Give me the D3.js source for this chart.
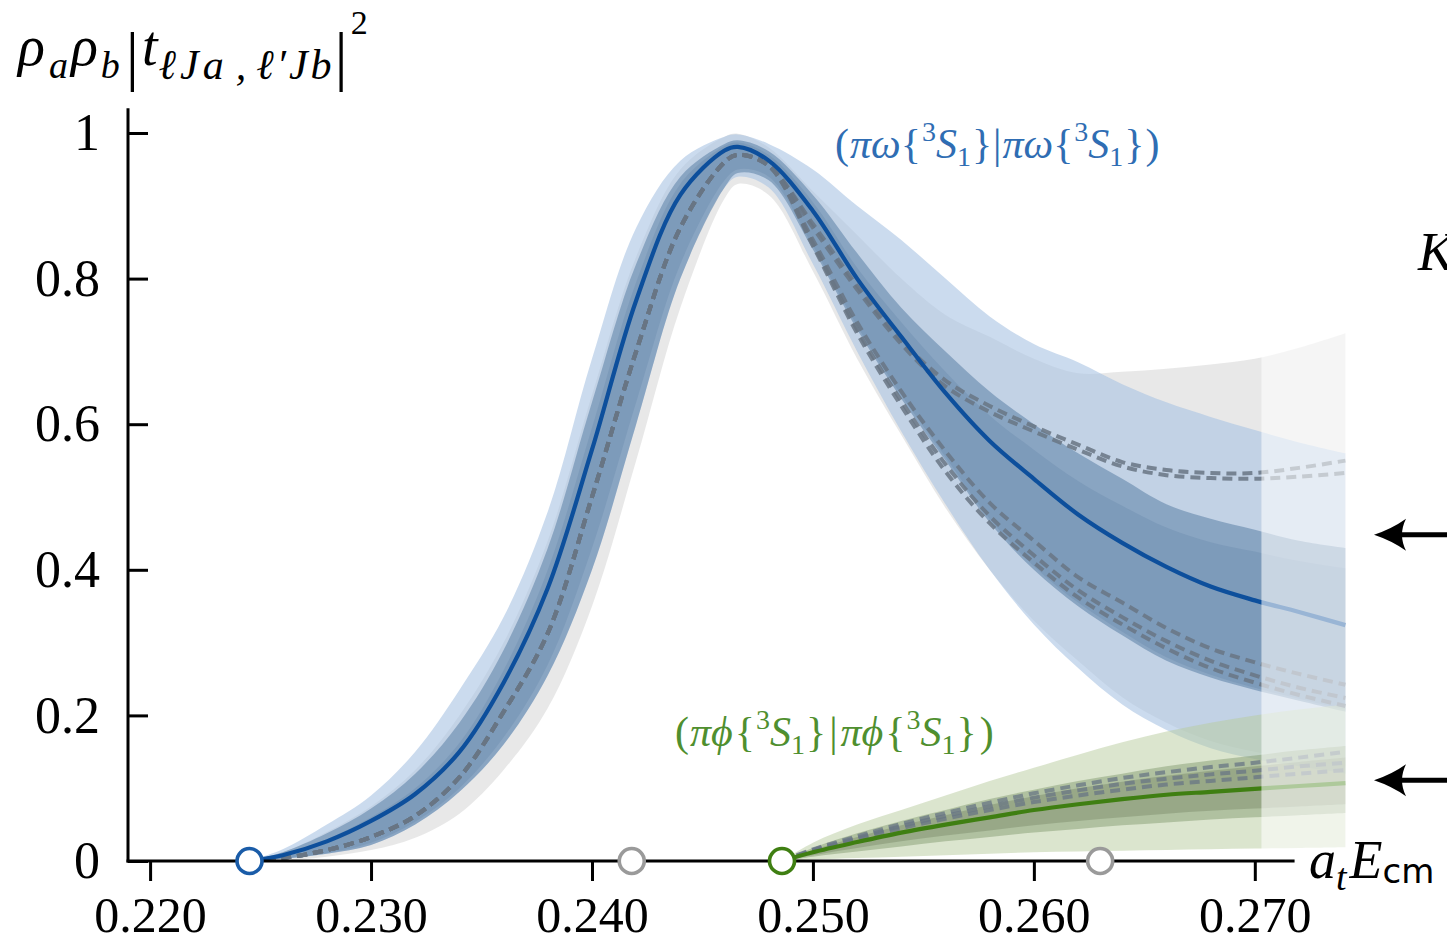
<!DOCTYPE html>
<html>
<head>
<meta charset="utf-8">
<script src="https://cdn.jsdelivr.net/npm/d3@7"></script>
<style>
  html, body { margin: 0; padding: 0; background: #ffffff; }
  svg { display: block; }
</style>
</head>
<body>
<svg id="chart" width="1447" height="945"></svg>
<script>
// ---------------- DATA ----------------
const xTicks = [0.220, 0.230, 0.240, 0.250, 0.260, 0.270];
const yTicks = [0, 0.2, 0.4, 0.6, 0.8, 1];
const yTickLabels = ["0", "0.2", "0.4", "0.6", "0.8", "1"];

// thresholds (open circles on the axis)
const thresholdX = [0.2245, 0.2418, 0.2486, 0.2630];
const thresholdKind = ["blue", "gray", "green", "gray"];

// region beyond which the curves are drawn faded
const fadeStart = 0.2703;
const fadeEnd = 0.2741;

// pi-omega channel
const xsBlue = [0.2245, 0.226, 0.228, 0.230, 0.232, 0.234, 0.236, 0.238, 0.240, 0.242, 0.244, 0.246, 0.2466, 0.248, 0.250, 0.252, 0.254, 0.256, 0.258, 0.260, 0.262, 0.264, 0.266, 0.268, 0.270, 0.272, 0.2741];
const blueCentral = [0, 0.008, 0.027, 0.055, 0.092, 0.15, 0.245, 0.375, 0.565, 0.77, 0.915, 0.976, 0.981, 0.962, 0.893, 0.80, 0.72, 0.643, 0.577, 0.525, 0.476, 0.437, 0.404, 0.377, 0.358, 0.342, 0.324];
const blueOuterHi = [0, 0.016, 0.05, 0.09, 0.15, 0.235, 0.335, 0.48, 0.69, 0.87, 0.962, 0.995, 0.998, 0.985, 0.95, 0.90, 0.853, 0.80, 0.748, 0.71, 0.685, 0.655, 0.63, 0.61, 0.592, 0.575, 0.56];
const blueOuterLo = [0, 0.003, 0.01, 0.022, 0.05, 0.095, 0.16, 0.255, 0.40, 0.6, 0.8, 0.925, 0.94, 0.925, 0.82, 0.70, 0.59, 0.49, 0.40, 0.325, 0.265, 0.215, 0.18, 0.155, 0.14, 0.13, 0.12];
const blueMidHi = [0, 0.012, 0.038, 0.072, 0.12, 0.19, 0.29, 0.43, 0.63, 0.82, 0.94, 0.985, 0.99, 0.975, 0.915, 0.835, 0.76, 0.70, 0.645, 0.60, 0.56, 0.525, 0.49, 0.47, 0.455, 0.44, 0.43];
const blueMidLo = [0, 0.003, 0.01, 0.022, 0.05, 0.095, 0.16, 0.255, 0.40, 0.6, 0.8, 0.925, 0.945, 0.935, 0.84, 0.73, 0.635, 0.55, 0.465, 0.40, 0.35, 0.31, 0.275, 0.252, 0.235, 0.22, 0.205];
const blueInnerHi = [0, 0.009, 0.03, 0.06, 0.1, 0.162, 0.262, 0.4, 0.595, 0.795, 0.93, 0.982, 0.987, 0.97, 0.905, 0.815, 0.74, 0.672, 0.612, 0.565, 0.522, 0.488, 0.458, 0.438, 0.425, 0.412, 0.402];
const blueInnerLo = [0, 0.003, 0.011, 0.025, 0.054, 0.1, 0.17, 0.27, 0.43, 0.63, 0.82, 0.935, 0.95, 0.94, 0.845, 0.735, 0.64, 0.555, 0.47, 0.405, 0.355, 0.315, 0.28, 0.256, 0.238, 0.223, 0.208];
const grayHi = [0, 0.012, 0.04, 0.075, 0.125, 0.2, 0.3, 0.44, 0.64, 0.83, 0.95, 0.995, 0.999, 0.98, 0.92, 0.86, 0.80, 0.75, 0.72, 0.69, 0.67, 0.672, 0.676, 0.682, 0.69, 0.705, 0.725];
const grayLo = [0, 0.001, 0.006, 0.015, 0.032, 0.065, 0.125, 0.21, 0.35, 0.55, 0.76, 0.91, 0.93, 0.915, 0.81, 0.69, 0.585, 0.485, 0.40, 0.33, 0.275, 0.225, 0.19, 0.165, 0.15, 0.14, 0.13];
const blueDash1 = [0, 0.004, 0.015, 0.033, 0.062, 0.115, 0.205, 0.313, 0.50, 0.70, 0.87, 0.96, 0.97, 0.955, 0.875, 0.79, 0.715, 0.66, 0.625, 0.597, 0.572, 0.548, 0.537, 0.533, 0.533, 0.54, 0.55];
const blueDash2 = [0, 0.004, 0.015, 0.033, 0.062, 0.115, 0.205, 0.313, 0.50, 0.70, 0.87, 0.96, 0.97, 0.955, 0.87, 0.785, 0.71, 0.652, 0.617, 0.59, 0.565, 0.542, 0.53, 0.526, 0.525, 0.528, 0.533];
const blueDash3 = [0, 0.004, 0.015, 0.033, 0.062, 0.115, 0.205, 0.313, 0.50, 0.70, 0.87, 0.96, 0.97, 0.955, 0.853, 0.74, 0.645, 0.563, 0.492, 0.44, 0.39, 0.355, 0.32, 0.292, 0.273, 0.257, 0.242];
const blueDash4 = [0, 0.004, 0.015, 0.033, 0.062, 0.115, 0.205, 0.313, 0.50, 0.70, 0.87, 0.96, 0.97, 0.955, 0.848, 0.73, 0.632, 0.545, 0.474, 0.42, 0.372, 0.335, 0.302, 0.275, 0.255, 0.238, 0.224];
const blueDash5 = [0, 0.004, 0.015, 0.033, 0.062, 0.115, 0.205, 0.313, 0.50, 0.70, 0.87, 0.96, 0.97, 0.955, 0.845, 0.725, 0.625, 0.535, 0.464, 0.41, 0.362, 0.325, 0.292, 0.265, 0.245, 0.228, 0.213];

// pi-phi channel
const xsGreen = [0.2486, 0.250, 0.252, 0.254, 0.256, 0.258, 0.260, 0.262, 0.264, 0.266, 0.268, 0.270, 0.272, 0.2741];
const greenCentral = [0, 0.012, 0.026, 0.039, 0.05, 0.06, 0.07, 0.078, 0.085, 0.091, 0.095, 0.099, 0.103, 0.107];
const greenOuterHi = [0, 0.025, 0.05, 0.07, 0.09, 0.11, 0.128, 0.146, 0.163, 0.178, 0.19, 0.2, 0.208, 0.215];
const greenOuterLo = [0, 0.002, 0.004, 0.006, 0.008, 0.01, 0.012, 0.013, 0.014, 0.015, 0.016, 0.017, 0.018, 0.019];
const greenMidHi = [0, 0.018, 0.038, 0.055, 0.07, 0.085, 0.098, 0.11, 0.12, 0.13, 0.138, 0.145, 0.152, 0.158];
const greenMidLo = [0, 0.006, 0.013, 0.02, 0.027, 0.033, 0.039, 0.044, 0.049, 0.053, 0.057, 0.06, 0.063, 0.066];
const greenInnerHi = [0, 0.015, 0.033, 0.049, 0.063, 0.077, 0.089, 0.1, 0.109, 0.117, 0.124, 0.13, 0.136, 0.142];
const greenInnerLo = [0, 0.008, 0.018, 0.027, 0.035, 0.042, 0.049, 0.055, 0.06, 0.065, 0.069, 0.072, 0.075, 0.078];
const greenDash1 = [0, 0.014, 0.03, 0.045, 0.058, 0.07, 0.081, 0.09, 0.098, 0.105, 0.11, 0.115, 0.12, 0.125];
const greenDash2 = [0, 0.015, 0.032, 0.048, 0.062, 0.075, 0.087, 0.097, 0.106, 0.113, 0.119, 0.124, 0.13, 0.135];
const greenDash3 = [0, 0.016, 0.034, 0.051, 0.066, 0.08, 0.093, 0.104, 0.114, 0.122, 0.129, 0.135, 0.142, 0.15];

// annotation arrows on the right (values on the y scale)
const arrowLevels = [0.448, 0.111];

// ---------------- DRAWING ----------------
const svg = d3.select("#chart");
const SERIF = "'Liberation Serif', 'DejaVu Serif', 'Times New Roman', serif";
const SANS = "'DejaVu Sans', 'Liberation Sans', sans-serif";

const x = d3.scaleLinear().domain([0.219, 0.272]).range([128, 1299]);
const y = d3.scaleLinear().domain([0, 1]).range([861, 133]);

const COL = {
  blue: "#0d4f9c", blueLabel: "#2f6db3",
  green: "#3f7f12", greenLabel: "#4f8f2f",
  dash: "#687684", grayCircle: "#9a9a9a"
};

const curve = d3.curveCatmullRom.alpha(0.5);
const area = (xs, lo, hi) => d3.area()
  .x((d, i) => x(xs[i])).y0((d, i) => y(lo[i])).y1((d, i) => y(hi[i]))
  .curve(curve)(xs);
const line = (xs, v) => d3.line()
  .x((d, i) => x(xs[i])).y((d, i) => y(v[i]))
  .curve(curve)(xs);

const plot = svg.append("g");

// blue channel bands
plot.append("path").attr("d", area(xsBlue, grayLo, grayHi)).attr("fill", "#b4b4b4").attr("fill-opacity", 0.3);
plot.append("path").attr("d", area(xsBlue, blueOuterLo, blueOuterHi)).attr("fill", "#a8c3e2").attr("fill-opacity", 0.6);
plot.append("path").attr("d", area(xsBlue, blueMidLo, blueMidHi)).attr("fill", "#5b7fa6").attr("fill-opacity", 0.55);
plot.append("path").attr("d", area(xsBlue, blueInnerLo, blueInnerHi)).attr("fill", "#4f7299").attr("fill-opacity", 0.2);

// green channel bands
plot.append("path").attr("d", area(xsGreen, greenOuterLo, greenOuterHi)).attr("fill", "#b8cc9e").attr("fill-opacity", 0.5);
plot.append("path").attr("d", area(xsGreen, greenMidLo, greenMidHi)).attr("fill", "#7d9468").attr("fill-opacity", 0.45);
plot.append("path").attr("d", area(xsGreen, greenInnerLo, greenInnerHi)).attr("fill", "#5f7050").attr("fill-opacity", 0.3);

// dashed curves
[blueDash1, blueDash2, blueDash3, blueDash4, blueDash5].forEach(v => {
  plot.append("path").attr("d", line(xsBlue, v)).attr("fill", "none")
    .attr("stroke", COL.dash).attr("stroke-width", 4).attr("stroke-dasharray", "10,6").attr("stroke-opacity", 0.85);
});
[greenDash1, greenDash2, greenDash3].forEach(v => {
  plot.append("path").attr("d", line(xsGreen, v)).attr("fill", "none")
    .attr("stroke", COL.dash).attr("stroke-width", 4).attr("stroke-dasharray", "10,6").attr("stroke-opacity", 0.75);
});

// central curves
plot.append("path").attr("d", line(xsBlue, blueCentral)).attr("fill", "none")
  .attr("stroke", COL.blue).attr("stroke-width", 4.2);
plot.append("path").attr("d", line(xsGreen, greenCentral)).attr("fill", "none")
  .attr("stroke", COL.green).attr("stroke-width", 4.2);

// fade of the extrapolated region
plot.append("rect")
  .attr("x", x(fadeStart)).attr("width", x(fadeEnd) - x(fadeStart) + 2)
  .attr("y", y(0.78)).attr("height", y(0) - y(0.78) - 2)
  .attr("fill", "#ffffff").attr("fill-opacity", 0.58);

// ---------------- AXES ----------------
const yAxis = d3.axisLeft(y).tickValues(yTicks).tickFormat((d, i) => yTickLabels[i])
  .tickSizeInner(-20).tickSizeOuter(0).tickPadding(28);
const gy = svg.append("g").attr("transform", `translate(${x(0.219)},0)`).call(yAxis);
gy.select(".domain").remove();
gy.selectAll("line").attr("stroke", "#000").attr("stroke-width", 3);
gy.selectAll("text").attr("font-family", SERIF).attr("font-size", 52).attr("fill", "#000");

const xAxis = d3.axisBottom(x).tickValues(xTicks).tickFormat(d3.format(".3f"))
  .tickSizeInner(20).tickSizeOuter(0).tickPadding(15);
const gx = svg.append("g").attr("transform", `translate(0,${y(0)})`).call(xAxis);
gx.select(".domain").remove();
gx.selectAll("line").attr("stroke", "#000").attr("stroke-width", 3);
gx.selectAll("text").attr("font-family", SERIF).attr("font-size", 50).attr("fill", "#000");

svg.append("line").attr("x1", x(0.219)).attr("x2", x(0.219)).attr("y1", y(1.034)).attr("y2", y(0) + 1.5)
  .attr("stroke", "#000").attr("stroke-width", 3);
svg.append("line").attr("x1", x(0.219) - 1.5).attr("x2", x(0.2718)).attr("y1", y(0)).attr("y2", y(0))
  .attr("stroke", "#000").attr("stroke-width", 3);

// threshold circles
svg.selectAll("circle.thr").data(thresholdX).join("circle").attr("class", "thr")
  .attr("cx", d => x(d)).attr("cy", y(0)).attr("r", 12.5)
  .attr("fill", "#fff").attr("stroke-width", 3.6)
  .attr("stroke", (d, i) => thresholdKind[i] === "blue" ? "#1a5ca8" : thresholdKind[i] === "green" ? COL.green : COL.grayCircle);

// ---------------- TEXT ----------------
// flowing math-like text; pieces: [text, dx, baseline offset, size, italic, family, letterSpacing]
function flowText(x0, y0, color, pieces) {
  const t = svg.append("text").attr("x", x0).attr("y", y0).attr("fill", color).attr("font-family", SERIF);
  let cur = 0;
  pieces.forEach(p => {
    const [txt, dx, off, size, it, fam, ls] = p;
    const ts = t.append("tspan").text(txt).attr("dx", dx || 0).attr("dy", off - cur).attr("font-size", size);
    if (it) ts.attr("font-style", "italic");
    if (fam) ts.attr("font-family", fam);
    if (ls) ts.attr("letter-spacing", ls);
    cur = off;
  });
  return t;
}

// y axis title
flowText(18, 65, "#000", [
  ["ρ", 0, 0, 56, 1, null, 2],
  ["a", 2, 13, 38, 1],
  ["ρ", 3, 0, 56, 1, null, 2],
  ["b", 1, 13, 38, 1],
  ["|", 6, 13, 66, 0],
  ["t", 3, 0, 56, 1],
  ["ℓJa", 1, 14, 42, 1, null, 4],
  [",", 8, 14, 42, 1],
  ["ℓ′Jb", 10, 14, 42, 1, null, 3],
  ["|", 0, 13, 66, 0],
  ["2", 3, -31, 34, 0]
]);

// x axis title
flowText(1309, 878, "#000", [
  ["a", 0, 0, 54, 1],
  ["t", 0, 12, 38, 1],
  ["E", 3, 0, 54, 1],
  ["cm", 0, 5, 34, 0, SANS]
]);

// K (cut at right edge, as in the figure)
svg.append("text").attr("x", 1418).attr("y", 270).attr("font-family", SERIF)
  .attr("font-style", "italic").attr("font-size", 54).attr("fill", "#000").text("K");

// channel labels
const chanPieces = (sym, g) => [
  ["(", 0, 0, 42], ["π" + sym, 1, 0, 42, 1], ["{", g, 0, 42], ["3", 1, -17, 28],
  ["S", 0, 0, 42, 1], ["1", 0, 8, 28], ["}", 1, 0, 42], ["|", g + 1, 0, 42],
  ["π" + sym, g + 1, 0, 42, 1], ["{", g, 0, 42], ["3", 1, -17, 28],
  ["S", 0, 0, 42, 1], ["1", 0, 8, 28], ["}", 1, 0, 42], [")", g + 1, 0, 42]
];
flowText(835, 158, COL.blueLabel, chanPieces("ω", 0));
flowText(675, 746, COL.greenLabel, chanPieces("ϕ", 2));

// arrows
arrowLevels.forEach(v => {
  const yy = y(v);
  svg.append("line").attr("x1", 1394).attr("x2", 1450).attr("y1", yy).attr("y2", yy)
    .attr("stroke", "#000").attr("stroke-width", 5);
  svg.append("path")
    .attr("d", `M1374,${yy} Q1392,${yy - 6} 1406,${yy - 16} Q1398,${yy} 1406,${yy + 16} Q1392,${yy + 6} 1374,${yy} Z`)
    .attr("fill", "#000");
});
</script>
</body>
</html>
